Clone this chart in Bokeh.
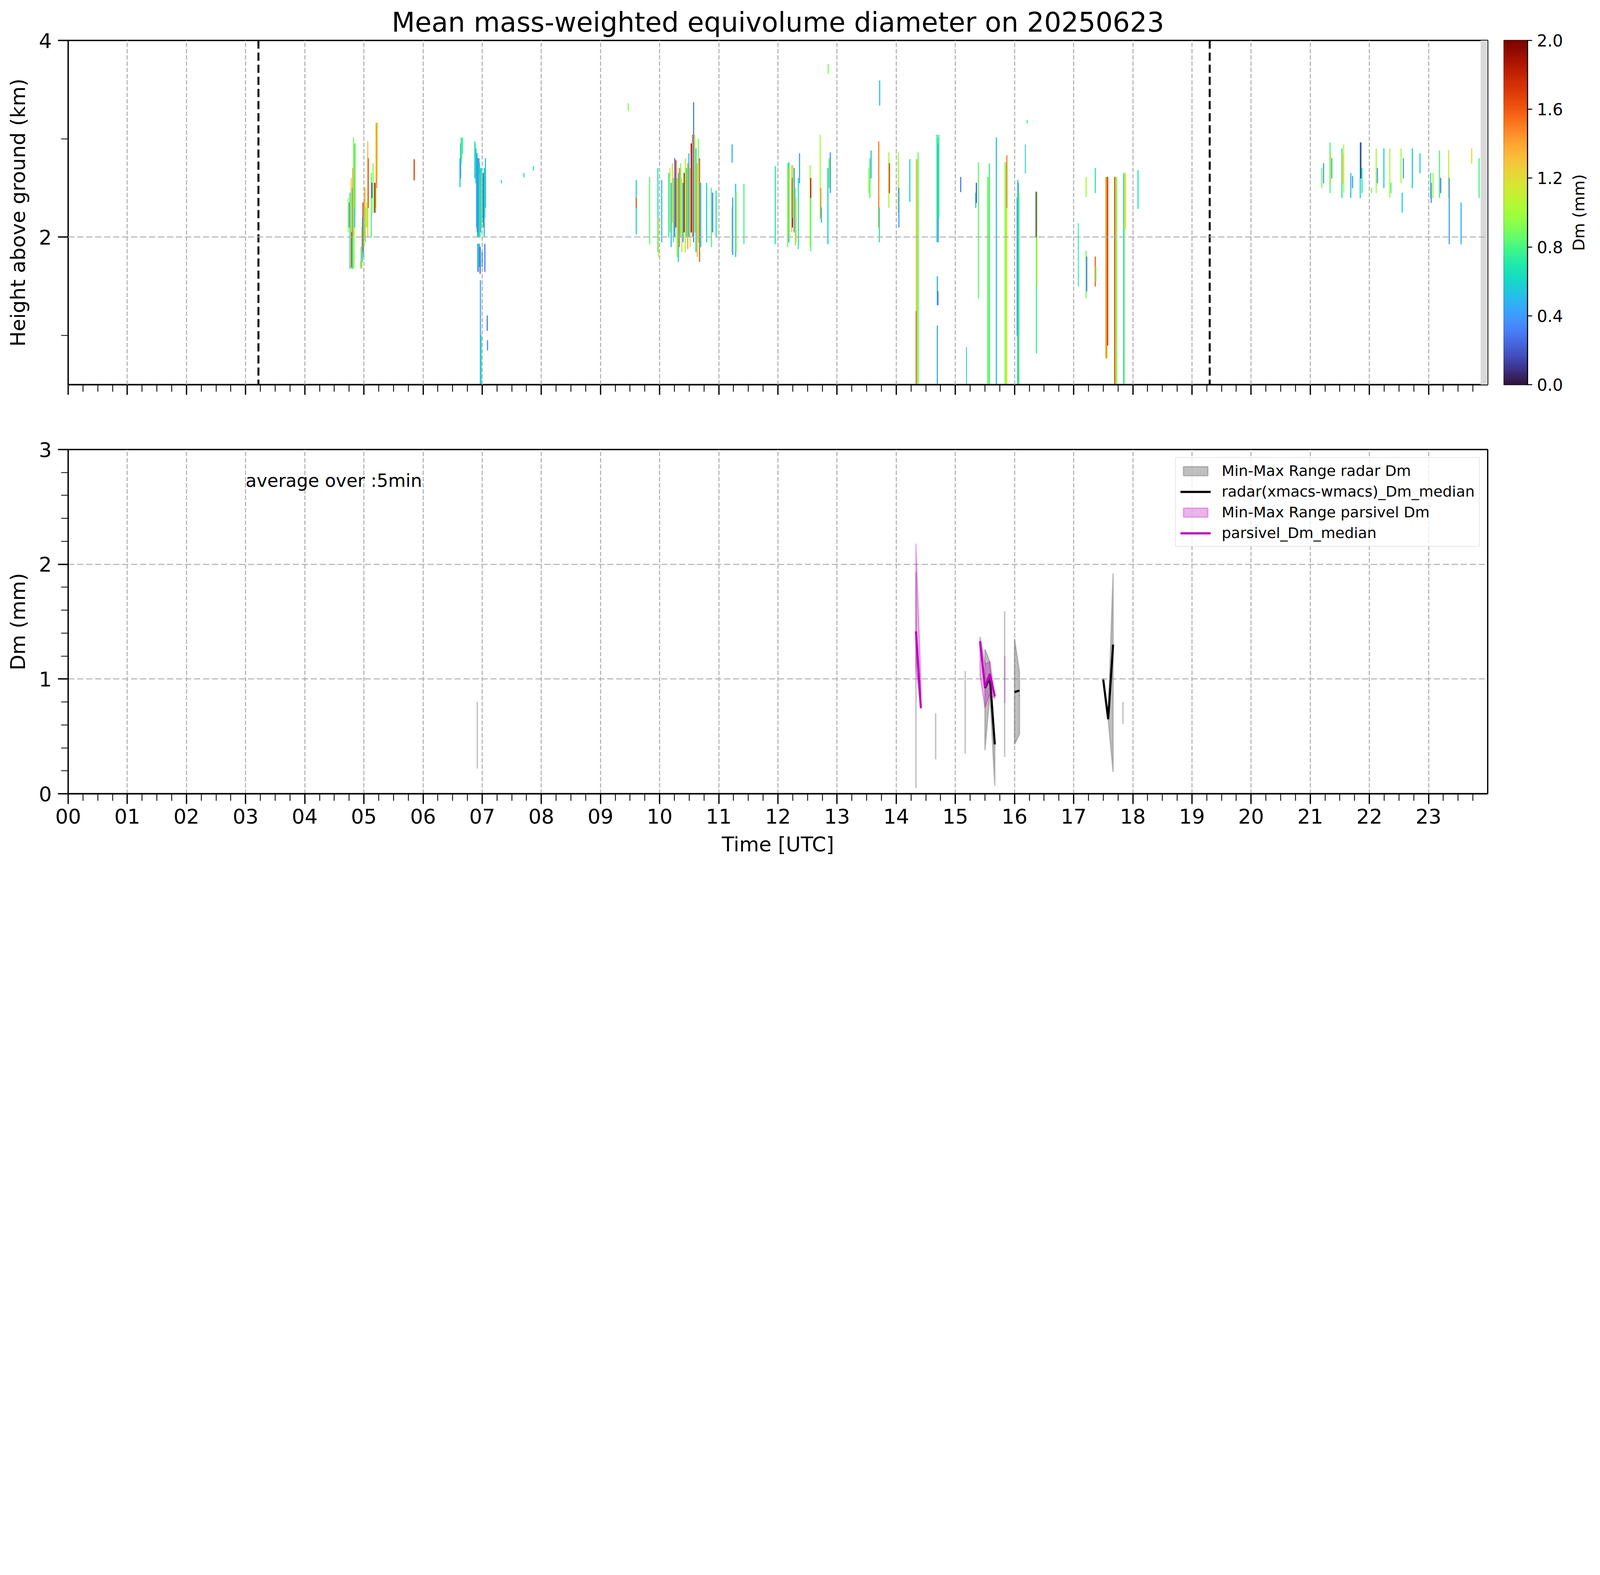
import math
import numpy as np
from bokeh.plotting import figure
from bokeh.layouts import column, row
from bokeh.models import (Range1d, FixedTicker, LinearColorMapper, Span, Legend, LegendItem,
                          ColumnDataSource, PrintfTickFormatter, CustomJSTickFormatter, BoxAnnotation)
from bokeh.palettes import Turbo256
from bokeh.core.properties import value
from bokeh.embed import file_html
from bokeh.resources import INLINE

# ---------------- data ----------------
title_text = "Mean mass-weighted equivolume diameter on 20250623"
hour_labels = ["00", "01", "02", "03", "04", "05", "06", "07", "08", "09", "10", "11",
               "12", "13", "14", "15", "16", "17", "18", "19", "20", "21", "22", "23"]
height_ticks = [2, 4]
height_minor = [1, 3]
dm_ticks = [0, 1, 2, 3]
cbar_ticks = [0.0, 0.4, 0.8, 1.2, 1.6, 2.0]
cbar_label = "Dm (mm)"
marker_hours = [3.217, 19.3]      # black dashed vertical markers
missing_from = 23.88              # no radar data after this hour
avg_text = "average over :5min"

# radar Dm field (upper panel): time start/end [h], height bottom/top [km], Dm [mm]
cell_t0 = [4.73, 4.75, 4.76, 4.78, 4.79, 4.80, 4.81, 4.82, 4.83, 4.84, 4.85,
           4.94, 4.95, 4.96, 4.97, 4.98, 4.99, 5.00, 5.01, 5.02, 5.04, 5.06, 5.07,
           5.12, 5.13, 5.15, 5.18, 5.20, 5.21, 5.22, 5.845,
           6.62, 6.63, 6.64, 6.65, 6.66,
           6.87, 6.88, 6.89, 6.90, 6.91, 6.92, 6.93, 6.94, 6.95, 6.96, 6.97, 6.98, 6.99, 7.00, 7.01, 7.02, 7.03, 7.04, 7.05,
           6.92, 6.94, 6.96, 6.99, 7.04, 6.965, 6.975, 7.08, 7.085, 7.32, 7.70, 7.86,
           9.465, 9.60, 9.60, 9.825, 9.965, 9.975, 10.03,
           10.15, 10.17, 10.19, 10.21, 10.23, 10.25, 10.27, 10.29, 10.31, 10.33, 10.35, 10.37, 10.39, 10.41, 10.43, 10.45,
           10.47, 10.49, 10.51, 10.53, 10.55, 10.57, 10.59, 10.61, 10.63, 10.65, 10.67, 10.69, 10.79, 10.87, 10.89, 10.95,
           11.22, 11.23, 11.28, 11.29, 11.42, 11.22, 11.95,
           12.16, 12.18, 12.19, 12.23, 12.24, 12.25, 12.27, 12.29, 12.30, 12.34, 12.36,
           12.54, 12.55, 12.55, 12.71, 12.72, 12.73, 12.84, 12.86, 12.88, 12.845,
           13.53, 13.55, 13.57, 13.70, 13.71, 13.715, 13.87, 13.88, 14.03, 14.04,
           14.225, 14.335, 14.335, 14.345, 14.355, 14.365,
           14.685, 14.695, 14.705, 14.715, 14.69, 14.70, 14.69,
           15.085, 15.185, 15.34, 15.35, 15.385,
           15.54, 15.55, 15.56, 15.57, 15.688,
           15.835, 15.845, 15.855, 15.865, 15.865,
           16.04, 16.05, 16.06, 16.07, 16.18, 16.365, 16.375, 16.36, 16.21,
           17.075, 17.205, 17.215, 17.205, 17.36, 17.37, 17.36,
           17.54, 17.55, 17.56, 17.57, 17.69, 17.70, 17.71, 17.72,
           17.84, 17.85, 17.86, 17.87, 18.083,
           21.19, 21.22, 21.33, 21.34, 21.36, 21.53, 21.54, 21.56, 21.68, 21.71,
           21.84, 21.85, 21.87, 22.03, 22.11, 22.13, 22.24, 22.34, 22.36,
           22.53, 22.55, 22.57, 22.72, 22.85, 23.03, 23.04, 23.07, 23.18, 23.20,
           23.335, 23.345, 23.545, 23.725, 23.85]
cell_t1 = [4.74, 4.76, 4.77, 4.79, 4.80, 4.81, 4.82, 4.83, 4.84, 4.85, 4.86,
           4.95, 4.96, 4.97, 4.98, 4.99, 5.00, 5.01, 5.02, 5.03, 5.05, 5.07, 5.08,
           5.13, 5.14, 5.16, 5.19, 5.21, 5.22, 5.23, 5.855,
           6.63, 6.64, 6.65, 6.66, 6.67,
           6.88, 6.89, 6.90, 6.91, 6.92, 6.93, 6.94, 6.95, 6.96, 6.97, 6.98, 6.99, 7.00, 7.01, 7.02, 7.03, 7.04, 7.05, 7.06,
           6.94, 6.96, 6.97, 7.01, 7.05, 6.975, 6.985, 7.09, 7.095, 7.33, 7.71, 7.87,
           9.475, 9.61, 9.61, 9.835, 9.975, 9.985, 10.04,
           10.16, 10.18, 10.20, 10.22, 10.24, 10.26, 10.28, 10.30, 10.32, 10.34, 10.36, 10.38, 10.40, 10.42, 10.44, 10.46,
           10.48, 10.50, 10.52, 10.54, 10.56, 10.58, 10.60, 10.62, 10.64, 10.66, 10.68, 10.70, 10.80, 10.88, 10.90, 10.96,
           11.23, 11.24, 11.29, 11.30, 11.43, 11.23, 11.96,
           12.17, 12.19, 12.20, 12.24, 12.25, 12.26, 12.28, 12.30, 12.31, 12.35, 12.37,
           12.55, 12.56, 12.56, 12.72, 12.73, 12.74, 12.85, 12.87, 12.89, 12.855,
           13.54, 13.56, 13.58, 13.71, 13.72, 13.725, 13.88, 13.89, 14.04, 14.05,
           14.235, 14.345, 14.345, 14.355, 14.365, 14.375,
           14.695, 14.705, 14.715, 14.725, 14.70, 14.71, 14.70,
           15.095, 15.19, 15.35, 15.36, 15.395,
           15.55, 15.56, 15.57, 15.58, 15.698,
           15.845, 15.855, 15.865, 15.875, 15.875,
           16.05, 16.06, 16.07, 16.08, 16.185, 16.375, 16.385, 16.37, 16.22,
           17.08, 17.215, 17.225, 17.215, 17.37, 17.38, 17.37,
           17.55, 17.56, 17.57, 17.58, 17.70, 17.71, 17.72, 17.73,
           17.85, 17.86, 17.87, 17.88, 18.093,
           21.20, 21.23, 21.34, 21.35, 21.37, 21.54, 21.55, 21.57, 21.69, 21.72,
           21.85, 21.86, 21.88, 22.04, 22.12, 22.14, 22.25, 22.35, 22.37,
           22.54, 22.56, 22.58, 22.73, 22.86, 23.04, 23.05, 23.08, 23.19, 23.21,
           23.345, 23.355, 23.555, 23.735, 23.86]
cell_h0 = [2.05, 2.10, 1.68, 1.68, 1.70, 1.68, 2.00, 1.68, 1.70, 2.10, 2.30,
           1.68, 1.70, 1.68, 1.75, 1.85, 1.80, 1.90, 2.00, 1.95, 2.10, 2.00, 2.30,
           2.00, 2.40, 2.25, 2.25, 2.30, 2.50, 2.60, 2.58,
           2.51, 2.60, 2.75, 2.80, 2.85,
           2.60, 2.65, 2.55, 2.10, 2.05, 2.00, 2.00, 2.05, 2.00, 2.00, 2.05, 2.10, 2.10, 2.15, 2.20, 2.10, 2.00, 2.20, 2.30,
           1.65, 1.70, 1.63, 1.70, 1.65, 0.50, 0.50, 1.05, 0.85, 2.55, 2.61, 2.68,
           3.29, 2.03, 2.30, 1.93, 1.85, 1.80, 1.95,
           2.00, 2.05, 1.90, 2.15, 1.95, 2.00, 2.10, 1.80, 1.75, 1.90, 2.00, 1.85, 1.95, 2.05, 1.85, 2.00,
           1.88, 2.00, 1.90, 2.05, 2.00, 1.95, 2.05, 1.85, 1.80, 1.95, 1.75, 1.90, 1.95, 1.90, 2.05, 2.00,
           1.85, 1.82, 1.80, 1.85, 1.93, 2.76, 1.93,
           1.90, 1.95, 2.00, 2.05, 2.10, 2.20, 2.05, 1.92, 1.95, 1.88, 2.55,
           1.90, 1.86, 2.40, 2.18, 2.20, 2.15, 1.93, 2.50, 2.45, 3.66,
           2.45, 2.40, 2.60, 2.10, 1.95, 3.34, 2.30, 2.45, 2.25, 2.10,
           2.36, 0.50, 1.25, 0.50, 0.50, 0.50,
           1.95, 2.10, 1.95, 2.20, 1.31, 1.31, 0.50,
           2.46, 0.50, 2.30, 2.35, 1.38,
           0.50, 0.50, 0.50, 0.50, 0.50,
           0.50, 0.50, 0.50, 0.50, 2.30,
           1.00, 0.50, 0.50, 0.50, 2.65, 0.82, 1.50, 2.00, 3.16,
           1.50, 1.38, 1.45, 2.41, 1.50, 1.55, 2.45,
           0.77, 0.77, 0.77, 0.90, 0.50, 0.50, 0.50, 0.50,
           0.50, 0.50, 2.08, 2.08, 2.29,
           2.50, 2.55, 2.45, 2.55, 2.60, 2.40, 2.55, 2.45, 2.40, 2.50,
           2.40, 2.60, 2.45, 2.45, 2.45, 2.55, 2.50, 2.40, 2.45,
           2.55, 2.25, 2.60, 2.50, 2.65, 2.40, 2.35, 2.40, 2.40, 2.45,
           2.40, 1.93, 1.93, 2.75, 2.40]
cell_h1 = [2.40, 2.35, 2.45, 2.60, 2.05, 2.50, 2.70, 3.01, 2.70, 2.95, 2.95,
           1.75, 1.90, 2.10, 2.20, 2.35, 2.20, 2.40, 2.50, 2.30, 2.35, 2.97, 2.80,
           2.65, 2.55, 2.75, 2.55, 3.16, 3.16, 3.16, 2.79,
           2.80, 2.95, 3.01, 3.01, 3.01,
           2.97, 2.95, 2.90, 2.85, 2.85, 2.80, 2.80, 2.80, 2.75, 2.65, 2.70, 2.70, 2.65, 2.65, 2.65, 2.65, 2.70, 2.70, 2.80,
           1.93, 1.93, 1.90, 1.85, 1.93, 1.56, 1.00, 1.20, 0.95, 2.58, 2.65, 2.72,
           3.36, 2.58, 2.40, 2.61, 2.70, 2.20, 2.58,
           2.65, 2.70, 2.55, 2.75, 2.60, 2.80, 2.78, 2.60, 2.65, 2.70, 2.75, 2.60, 2.55, 2.65, 2.80, 2.70,
           2.75, 2.85, 2.70, 2.95, 3.04, 3.37, 3.04, 2.90, 2.75, 3.00, 2.80, 2.55, 2.55, 2.50, 2.45, 2.47,
           2.30, 2.40, 2.54, 2.45, 2.54, 2.94, 2.72,
           2.75, 2.76, 2.70, 2.73, 2.60, 2.73, 2.70, 2.50, 2.40, 2.60, 2.85,
           2.73, 2.50, 2.60, 3.04, 2.50, 2.30, 2.70, 2.80, 2.86, 3.76,
           2.70, 2.80, 2.88, 2.97, 2.30, 3.59, 2.86, 2.75, 2.86, 2.50,
           2.79, 1.25, 2.79, 2.79, 2.79, 2.86,
           3.04, 3.01, 2.95, 3.04, 1.60, 1.45, 1.10,
           2.61, 0.88, 2.45, 2.55, 2.76,
           2.61, 2.61, 2.61, 2.75, 3.01,
           2.76, 2.76, 2.76, 2.30, 2.83,
           2.40, 2.58, 2.55, 2.45, 2.94, 2.46, 2.46, 2.46, 3.19,
           2.14, 1.86, 1.80, 2.61, 1.80, 1.70, 2.70,
           2.61, 2.61, 2.61, 2.61, 2.61, 2.61, 2.61, 2.61,
           2.65, 2.65, 2.65, 2.65, 2.68,
           2.70, 2.75, 2.96, 2.85, 2.80, 2.90, 2.85, 2.94, 2.65, 2.62,
           2.96, 2.96, 2.70, 2.50, 2.90, 2.70, 2.90, 2.90, 2.55,
           2.90, 2.45, 2.80, 2.90, 2.85, 2.65, 2.55, 2.65, 2.88, 2.60,
           2.88, 2.60, 2.35, 2.90, 2.80]
cell_dm = [1.0, 0.3, 0.7, 1.3, 1.8, 0.6, 1.5, 0.9, 1.1, 0.55, 1.0,
           1.0, 0.6, 1.3, 0.7, 1.7, 0.5, 1.2, 1.4, 0.9, 1.1, 1.3, 1.6,
           0.8, 0.2, 0.9, 1.9, 1.1, 1.5, 1.3, 1.7,
           0.55, 0.4, 0.7, 0.85, 0.75,
           0.6, 0.8, 0.5, 0.4, 0.55, 0.25, 0.65, 0.35, 0.6, 0.8, 0.5, 0.7, 0.9, 0.6, 0.45, 0.15, 0.55, 0.7, 0.5,
           0.4, 0.6, 0.2, 0.45, 0.3, 0.45, 0.6, 0.3, 0.35, 0.7, 0.7, 0.7,
           0.9, 0.6, 1.6, 0.85, 0.7, 1.1, 0.5,
           0.7, 1.1, 0.5, 1.3, 0.8, 0.3, 1.7, 1.0, 0.6, 1.5, 0.9, 1.2, 0.4, 1.8, 1.0, 0.7,
           1.4, 0.5, 1.2, 1.9, 1.5, 0.3, 1.1, 0.6, 1.3, 0.9, 1.6, 0.5, 0.6, 0.8, 0.3, 0.7,
           0.9, 0.4, 0.55, 0.9, 0.8, 0.45, 0.7,
           0.9, 0.6, 1.1, 1.3, 1.9, 1.0, 0.4, 0.9, 1.3, 0.7, 0.4,
           1.0, 0.85, 1.8, 1.0, 1.45, 0.5, 0.6, 0.9, 0.4, 0.9,
           1.0, 0.8, 0.5, 1.5, 0.7, 0.5, 1.0, 1.7, 1.0, 0.4,
           0.6, 1.8, 1.35, 1.3, 1.05, 0.85,
           0.6, 0.8, 0.4, 0.75, 0.5, 0.3, 0.45,
           0.3, 0.6, 0.5, 0.2, 0.85,
           0.85, 0.95, 1.0, 0.75, 0.5,
           0.9, 1.05, 0.95, 1.15, 1.5,
           0.35, 0.6, 0.45, 0.85, 0.6, 0.75, 1.1, 0.15, 0.8,
           0.7, 0.9, 0.3, 1.0, 1.6, 0.9, 0.7,
           1.3, 1.6, 1.2, 1.75, 1.8, 1.5, 1.1, 0.9,
           0.55, 0.85, 1.05, 1.2, 0.7,
           0.9, 0.4, 0.8, 1.2, 0.6, 0.7, 1.3, 1.0, 0.5, 0.4,
           0.6, 0.1, 0.7, 0.9, 1.0, 0.4, 0.6, 1.0, 0.8,
           1.0, 0.6, 0.4, 0.6, 0.6, 0.7, 0.35, 1.0, 0.8, 0.3,
           1.1, 0.4, 0.5, 1.2, 0.8]

# 5-min statistics (lower panel)
radar_time = ["06:55", "14:20", "14:40", "15:10", "15:30", "15:35", "15:40",
              "15:50", "16:00", "16:05", "17:30", "17:35", "17:40", "17:50"]
radar_min = [0.22, 0.05, 0.30, 0.35, 0.38, 0.87, 0.07, 0.32, 0.43, 0.52, 0.99, 0.65, 0.19, 0.61]
radar_max = [0.80, 1.93, 0.70, 1.07, 1.26, 1.15, 0.45, 1.59, 1.35, 1.06, 1.01, 0.66, 1.92, 0.80]
radar_median = [0.50, 1.00, 0.50, 0.70, 0.92, 1.01, 0.43, 0.90, 0.886, 0.90, 0.995, 0.65, 1.30, 0.70]

parsivel_time = ["14:20", "14:25", "15:25", "15:30", "15:35", "15:40", "15:50", "16:05"]
parsivel_min = [1.10, 0.74, 1.03, 0.75, 0.87, 0.83, 0.79, 0.85]
parsivel_max = [2.18, 0.98, 1.37, 1.13, 1.15, 0.85, 1.20, 0.86]
parsivel_median = [1.415, 0.747, 1.33, 0.933, 1.045, 0.848, 1.00, 0.855]

# ---------------- layout constants (CSS px) ----------------
FONT = "DejaVu Sans"
LEFT, FW, FH = 174, 3634, 881
TOP, GAP1, GAP2, BOTTOM = 103, 83, 83, 168
CB_GAP, CB_W, CB_RIGHT, LBL_W = 41, 61, 96, 70
P2_RIGHT = CB_GAP + CB_W + CB_RIGHT + LBL_W


def to_hours(s):
    h, m = s.split(":")
    return int(h) + int(m) / 60.0


def split_runs(times):
    groups, cur = [], [0]
    for i in range(1, len(times)):
        if abs(times[i] - times[i - 1] - 5 / 60.0) < 1e-6:
            cur.append(i)
        else:
            groups.append(cur)
            cur = [i]
    groups.append(cur)
    return groups


def build(times_s, lo, hi, med):
    t = [to_hours(s) for s in times_s]
    polys_x, polys_y, sx, sy0, sy1, lx, ly = [], [], [], [], [], [], []
    for g in split_runs(t):
        if len(g) == 1:
            i = g[0]
            sx.append(t[i]); sy0.append(lo[i]); sy1.append(hi[i])
        else:
            polys_x.append([t[i] for i in g] + [t[i] for i in reversed(g)])
            polys_y.append([hi[i] for i in g] + [lo[i] for i in reversed(g)])
        for i in g:
            lx.append(t[i]); ly.append(med[i])
        lx.append(np.nan); ly.append(np.nan)
    return polys_x, polys_y, sx, sy0, sy1, lx, ly


def style_axis(ax):
    ax.axis_line_width = 3.3
    ax.axis_line_color = "black"
    ax.major_tick_line_width = 3.3
    ax.major_tick_out = 26
    ax.major_tick_in = 0
    ax.minor_tick_line_width = 2.2
    ax.minor_tick_out = 18
    ax.minor_tick_in = 0
    ax.major_label_text_font = FONT
    ax.major_label_text_font_size = "52px"
    ax.major_label_text_color = "black"
    ax.axis_label_text_font = FONT
    ax.axis_label_text_font_size = "52px"
    ax.axis_label_text_font_style = "normal"
    ax.axis_label_text_color = "black"


def style_grid(g, dash):
    g.grid_line_color = "#b0b0b0"
    g.grid_line_width = 2.7
    g.grid_line_dash = dash


x_major = list(range(24))
x_minor = [h + q / 4.0 for h in range(24) for q in (1, 2, 3)]

# ---------------- upper panel ----------------
p1 = figure(frame_width=FW, frame_height=FH, x_range=Range1d(0, 24), y_range=Range1d(0.5, 4),
            toolbar_location=None, output_backend="svg",
            min_border_left=LEFT, min_border_right=CB_GAP, min_border_top=TOP, min_border_bottom=GAP1)
p1.title.text = title_text
p1.title.text_font = FONT
p1.title.text_font_size = "69px"
p1.title.text_font_style = "normal"
p1.title.text_color = "black"
p1.title.align = "center"
p1.title.standoff = 13
p1.outline_line_color = "black"
p1.outline_line_width = 3.3

mapper = LinearColorMapper(palette=Turbo256, low=0, high=2)
cells = ColumnDataSource(dict(t0=cell_t0, t1=cell_t1, h0=cell_h0, h1=cell_h1, dm=cell_dm))
p1.quad(left="t0", right="t1", bottom="h0", top="h1", source=cells,
        fill_color={"field": "dm", "transform": mapper},
        line_color={"field": "dm", "transform": mapper}, line_width=1.4)
p1.add_layout(BoxAnnotation(left=missing_from, fill_color="#d9d9d9", fill_alpha=1.0, line_color=None))

p1.xaxis.ticker = FixedTicker(ticks=x_major, minor_ticks=x_minor)
p1.xaxis.formatter = CustomJSTickFormatter(code="return ''")
p1.yaxis.ticker = FixedTicker(ticks=height_ticks, minor_ticks=height_minor)
p1.yaxis.axis_label = "Height above ground (km)"
for ax in (p1.xaxis[0], p1.yaxis[0]):
    style_axis(ax)
p1.yaxis.major_label_standoff = 16
p1.yaxis.axis_label_standoff = 20
p1.xgrid.ticker = FixedTicker(ticks=x_major)
p1.ygrid.ticker = FixedTicker(ticks=height_ticks)
style_grid(p1.xgrid[0], "11 5")
style_grid(p1.ygrid[0], "16 7")
p1.xgrid.level = "overlay"
p1.ygrid.level = "overlay"
for mh in marker_hours:
    p1.add_layout(Span(location=mh, dimension="height", line_color="black",
                       line_width=5, line_dash="21 10"))

# ---------------- colour bar ----------------
pc = figure(frame_width=CB_W, frame_height=FH, x_range=Range1d(0, 1), y_range=Range1d(0, 2),
            toolbar_location=None, output_backend="svg", x_axis_location=None, y_axis_location="right",
            min_border_left=0, min_border_right=CB_RIGHT, min_border_top=TOP, min_border_bottom=GAP1)
levels = np.linspace(0, 2, len(Turbo256) + 1)
pc.quad(left=0, right=1, bottom=levels[:-1], top=levels[1:],
        fill_color=list(Turbo256), line_color=list(Turbo256), line_width=1)
pc.grid.visible = False
pc.outline_line_color = "black"
pc.outline_line_width = 2.7
cax = pc.yaxis[0]
cax.ticker = FixedTicker(ticks=cbar_ticks, minor_ticks=[])
cax.formatter = PrintfTickFormatter(format="%.1f")
cax.axis_line_width = 2.7
cax.major_tick_line_width = 2.7
cax.major_tick_out = 12
cax.major_tick_in = 0
cax.minor_tick_out = 0
cax.major_label_text_font = FONT
cax.major_label_text_font_size = "42px"
cax.major_label_text_color = "black"
cax.major_label_standoff = 12

# colour-bar label in its own narrow strip
pl = figure(frame_width=LBL_W, frame_height=FH, x_range=Range1d(0, 1), y_range=Range1d(0, 1),
            toolbar_location=None, output_backend="svg", x_axis_location=None, y_axis_location=None,
            min_border_left=0, min_border_right=0, min_border_top=TOP, min_border_bottom=GAP1)
pl.grid.visible = False
pl.outline_line_color = None
pl.text(x=[0.5], y=[0.5], text=[cbar_label], angle=math.pi / 2, text_font=value(FONT),
        text_font_size="41px", text_align="center", text_baseline="middle", text_color="black")

# ---------------- lower panel ----------------
p2 = figure(frame_width=FW, frame_height=FH, x_range=Range1d(0, 24), y_range=Range1d(0, 3),
            toolbar_location=None, output_backend="svg",
            min_border_left=LEFT, min_border_right=P2_RIGHT, min_border_top=GAP2, min_border_bottom=BOTTOM)
p2.outline_line_color = "black"
p2.outline_line_width = 3.3

rpx, rpy, rsx, rsy0, rsy1, rlx, rly = build(radar_time, radar_min, radar_max, radar_median)
ppx, ppy, psx, psy0, psy1, plx, ply = build(parsivel_time, parsivel_min, parsivel_max, parsivel_median)

r_rfill = p2.patches(rpx, rpy, fill_color="#808080", fill_alpha=0.5,
                     line_color="#808080", line_alpha=0.5, line_width=3.3)
p2.segment(rsx, rsy0, rsx, rsy1, line_color="#808080", line_alpha=0.5, line_width=3.4)
r_rmed = p2.line(rlx, rly, line_color="black", line_width=5.4)
r_pfill = p2.patches(ppx, ppy, fill_color="#bf00bf", fill_alpha=0.3,
                     line_color="#bf00bf", line_alpha=0.3, line_width=3.3)
p2.segment(psx, psy0, psx, psy1, line_color="#bf00bf", line_alpha=0.3, line_width=3.4)
r_pmed = p2.line(plx, ply, line_color="#bf00bf", line_width=5.4)

p2.text(x=[3.0], y=[2.73], text=[avg_text], text_font=value(FONT), text_font_size="46px",
        text_align="left", text_baseline="alphabetic", text_color="black")

p2.xaxis.ticker = FixedTicker(ticks=x_major, minor_ticks=x_minor)
p2.xaxis.major_label_overrides = {h: lab for h, lab in zip(x_major, hour_labels)}
p2.xaxis.axis_label = "Time [UTC]"
p2.yaxis.ticker = FixedTicker(ticks=dm_ticks, minor_ticks=[i * 0.2 for i in range(16)])
p2.yaxis.axis_label = "Dm (mm)"
for ax in (p2.xaxis[0], p2.yaxis[0]):
    style_axis(ax)
p2.xaxis.major_label_standoff = 12
p2.xaxis.axis_label_standoff = 20
p2.yaxis.major_label_standoff = 16
p2.yaxis.axis_label_standoff = 20
p2.xgrid.ticker = FixedTicker(ticks=x_major)
p2.ygrid.ticker = FixedTicker(ticks=dm_ticks)
style_grid(p2.xgrid[0], "11 5")
style_grid(p2.ygrid[0], "16 7")

legend = Legend(items=[
    LegendItem(label="Min-Max Range radar Dm", renderers=[r_rfill]),
    LegendItem(label="radar(xmacs-wmacs)_Dm_median", renderers=[r_rmed]),
    LegendItem(label="Min-Max Range parsivel Dm", renderers=[r_pfill]),
    LegendItem(label="parsivel_Dm_median", renderers=[r_pmed]),
], location="top_right")
legend.label_text_font = FONT
legend.label_text_font_size = "38px"
legend.label_text_color = "black"
legend.glyph_width = 78
legend.glyph_height = 29
legend.label_standoff = 28
legend.spacing = 9
legend.padding = 11
legend.margin = 20
legend.border_line_color = "#cccccc"
legend.border_line_width = 2.2
legend.background_fill_alpha = 0.8
p2.add_layout(legend)

layout = column(row(p1, pc, pl), p2)
open("out.html", "w").write(file_html(layout, INLINE))
